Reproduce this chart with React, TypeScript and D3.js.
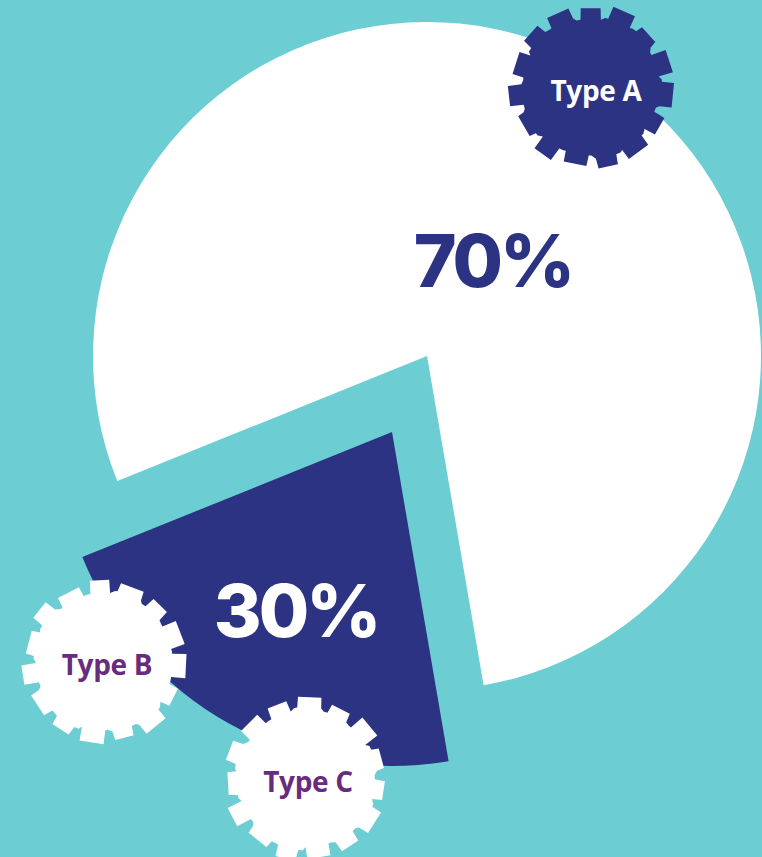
import React from "react";
import * as d3 from "d3";

// ---- data ----
const sliceNames = ["Type A", "Type B + Type C"];
const slicePercents = [70, 30];
// share of the circle each slice is actually drawn with in the reference graphic
const sliceDrawnShares = [78.4, 21.6];
const badgeLabels = ["Type A", "Type B", "Type C"];

const W = 762;
const H = 857;
const TEAL = "#6ccdd3";
const NAVY = "#2d3383";
const PURPLE = "#692b7d";

function cogPath(cx: number, cy: number, R: number, r: number, n: number, rot: number, seed: number) {
  const pts: [number, number][] = [];
  const step = (Math.PI * 2) / n;
  for (let i = 0; i < n; i++) {
    const base = rot + i * step;
    const jo = Math.sin(i * 2.7 + seed) * 2.5;
    const ji = Math.cos(i * 1.9 + seed) * 2;
    const tw = 0.32 + Math.sin(i * 3.1 + seed) * 0.04;
    const a1 = base - step * 0.5;
    const a2 = base - step * (tw + 0.06);
    const a3 = base - step * tw;
    const a4 = base + step * tw;
    const a5 = base + step * (tw + 0.06);
    const ri = r + ji;
    const ro = R + jo;
    pts.push([cx + ri * Math.cos(a1), cy + ri * Math.sin(a1)]);
    pts.push([cx + ri * Math.cos(a2), cy + ri * Math.sin(a2)]);
    pts.push([cx + ro * Math.cos(a3), cy + ro * Math.sin(a3)]);
    pts.push([cx + ro * Math.cos(a4), cy + ro * Math.sin(a4)]);
    pts.push([cx + ri * Math.cos(a5), cy + ri * Math.sin(a5)]);
  }
  return "M" + pts.map((p) => p[0].toFixed(1) + "," + p[1].toFixed(1)).join("L") + "Z";
}

export default function App() {
  const cx = 427;
  const cy = 356;
  const radius = 334;
  const deg = (d: number) => (d * Math.PI) / 180;

  const pie = d3
    .pie<number>()
    .sort(null)
    .startAngle(deg(-112))
    .endAngle(deg(248))
    .value((d) => d);
  const arcs = pie(sliceDrawnShares);
  const arcGen = d3.arc<d3.PieArcDatum<number>>().innerRadius(0).outerRadius(radius);

  const sliceFill = ["#ffffff", NAVY];
  const sliceOffset: [number, number][] = [
    [0, 0],
    [-35, 76],
  ];
  const labelPos: [number, number][] = [
    [493, 287],
    [296, 637],
  ];
  const labelFill = [NAVY, "#ffffff"];

  const badges = [
    { x: 591, y: 87, fill: NAVY, text: "#ffffff", rot: 0.1, seed: 1, tx: 596, ty: 101 },
    { x: 104, y: 662, fill: "#ffffff", text: PURPLE, rot: 0.05, seed: 2.3, tx: 107, ty: 675 },
    { x: 306, y: 779, fill: "#ffffff", text: PURPLE, rot: 0.15, seed: 4.1, tx: 308, ty: 792 },
  ];

  return (
    <svg
      width={W}
      height={H}
      style={{ position: "absolute", left: 0, top: 0, display: "block" }}
    >
      <rect x={0} y={0} width={W} height={H} fill={TEAL} />
      {arcs.map((a, i) => (
        <g key={sliceNames[i]} transform={`translate(${cx + sliceOffset[i][0]},${cy + sliceOffset[i][1]})`}>
          <path d={arcGen(a) || ""} fill={sliceFill[i]} />
        </g>
      ))}
      {slicePercents.map((p, i) => (
        <text
          key={"pct" + i}
          x={labelPos[i][0]}
          y={labelPos[i][1]}
          textAnchor="middle"
          fontFamily="Inter, 'Open Sans', sans-serif"
          fontWeight={800}
          fontSize={73}
          letterSpacing={-3}
          fill={labelFill[i]}
        >
          {p + "%"}
        </text>
      ))}
      {badges.map((b, i) => (
        <g key={badgeLabels[i]}>
          <path d={cogPath(b.x, b.y, 81, 70, 15, b.rot, b.seed)} fill={b.fill} />
          <text
            x={b.tx}
            y={b.ty}
            textAnchor="middle"
            fontFamily="'Open Sans', Lato, sans-serif"
            fontWeight={700}
            fontSize={28}
            letterSpacing={-0.3}
            fill={b.text}
          >
            {badgeLabels[i]}
          </text>
        </g>
      ))}
    </svg>
  );
}
